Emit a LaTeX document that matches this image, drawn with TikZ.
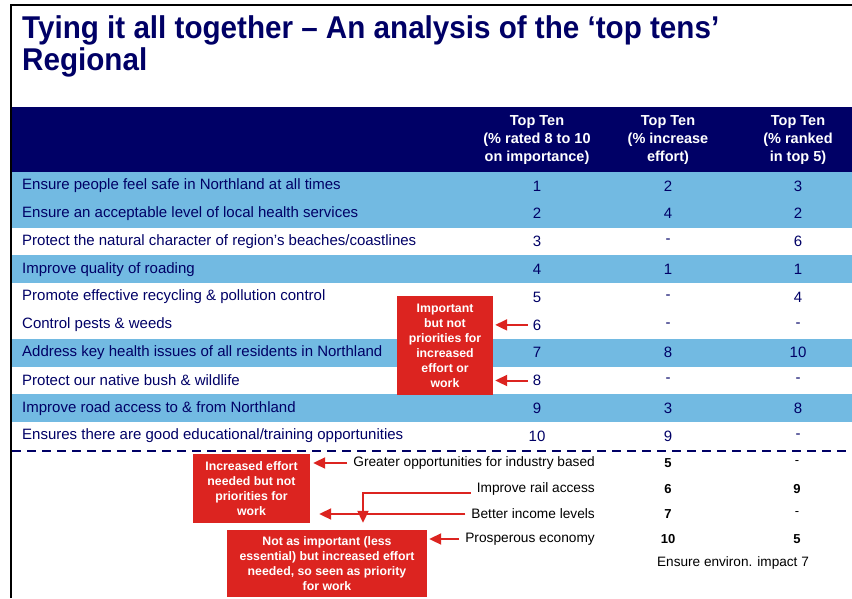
\documentclass[tikz,border=0pt]{standalone}
\usepackage{fontspec}
\setmainfont{Liberation Sans}
\newfontfamily\narrowfont[FakeStretch=0.94]{Liberation Sans}
\usetikzlibrary{arrows.meta}

\definecolor{navy}{HTML}{000066}
\definecolor{rowblue}{HTML}{72BAE2}
\definecolor{boxred}{HTML}{DC2420}

\tikzset{
	redbox/.style={fill=boxred,text=white,align=center,inner sep=2pt,
		font=\bfseries\fontsize{12.3}{15}\selectfont},
	redarrow/.style={boxred,line width=2pt,-{Triangle[length=12pt,width=11pt]}}
}

\begin{document}
\begin{tikzpicture}[x=1pt,y=-1pt]
		\useasboundingbox (0,0) rectangle (852,598);
		\fill[white] (0,0) rectangle (852,598);
		
		% frame, header band and shaded rows
		\draw[line width=2pt] (11,598) -- (11,5) -- (852,5);
		\fill[navy] (12,107) rectangle (852,172);
		\fill[rowblue] (12,172) rectangle (852,227.6);
		\fill[rowblue] (12,255.4) rectangle (852,283.2);
		\fill[rowblue] (12,338.8) rectangle (852,366.6);
		\fill[rowblue] (12,394.4) rectangle (852,422.2);
		\draw[navy,line width=2pt,dash pattern=on 9pt off 6pt] (12,451) -- (852,451);
		
		\begin{scope}[every node/.style={anchor=base west,text=navy,inner sep=0pt,
				font=\narrowfont\bfseries\fontsize{31.5}{34}\selectfont}]
			\node (T) at (22,38.5) {Tying it all together – An analysis of the ‘top tens’};
			\node (R) at (22,70.5) {Regional};
		\end{scope}
		
		\begin{scope}[every node/.style={text=white,align=center,
				font=\bfseries\fontsize{14.5}{18}\selectfont}]
			\node (H1) at (537,140) {Top Ten\\(\% rated 8 to 10\\on importance)};
			\node (H2) at (668,140) {Top Ten\\(\% increase\\effort)};
			\node (H3) at (798,140) {Top Ten\\(\% ranked\\in top 5)};
		\end{scope}
		
		\begin{scope}[every node/.style={anchor=west,text=navy,inner sep=0pt,
				font=\fontsize{15}{17}\selectfont}]
			\node (P1) at (22,185.9) {Ensure people feel safe in Northland at all times};
			\node (P2) at (22,213.7) {Ensure an acceptable level of local health services};
			\node (P3) at (22,241.5) {Protect the natural character of region’s beaches/coastlines};
			\node (P4) at (22,269.3) {Improve quality of roading};
			\node (P5) at (22,297.1) {Promote effective recycling \& pollution control};
			\node (P6) at (22,324.9) {Control pests \& weeds};
			\node (P7) at (22,352.7) {Address key health issues of all residents in Northland};
			\node (P8) at (22,380.5) {Protect our native bush \& wildlife};
			\node (P9) at (22,408.3) {Improve road access to \& from Northland};
			\node (P10) at (22,436.1) {Ensures there are good educational/training opportunities};
		\end{scope}
		
		\begin{scope}[every node/.style={text=navy,inner sep=1pt,
				font=\fontsize{15}{17}\selectfont}]
			\node (A1) at (537,185.9) {1};  \node (B1) at (668,185.9) {2}; \node (C1) at (798,185.9) {3};
			\node (A2) at (537,213.7) {2};  \node (B2) at (668,213.7) {4}; \node (C2) at (798,213.7) {2};
			\node (A3) at (537,241.5) {3};  \node (B3) at (668,241.5) {-}; \node (C3) at (798,241.5) {6};
			\node (A4) at (537,269.3) {4};  \node (B4) at (668,269.3) {1}; \node (C4) at (798,269.3) {1};
			\node (A5) at (537,297.1) {5};  \node (B5) at (668,297.1) {-}; \node (C5) at (798,297.1) {4};
			\node (A6) at (537,324.9) {6};  \node (B6) at (668,324.9) {-}; \node (C6) at (798,324.9) {-};
			\node (A7) at (537,352.7) {7};  \node (B7) at (668,352.7) {8}; \node (C7) at (798,352.7) {10};
			\node (A8) at (537,380.5) {8};  \node (B8) at (668,380.5) {-}; \node (C8) at (798,380.5) {-};
			\node (A9) at (537,408.3) {9};  \node (B9) at (668,408.3) {3}; \node (C9) at (798,408.3) {8};
			\node (A10) at (537,436.1) {10}; \node (B10) at (668,436.1) {9}; \node (C10) at (798,436.1) {-};
		\end{scope}
		
		\begin{scope}[every node/.style={anchor=east,inner sep=0pt,
				font=\fontsize{13.7}{16}\selectfont}]
			\node (G) at (595,463) {Greater opportunities for industry based};
			\node (L) at (595,489) {Improve rail access};
			\node (M) at (595,514) {Better income levels};
			\node (E) at (595,539) {Prosperous economy};
		\end{scope}
		
		\begin{scope}[every node/.style={inner sep=1pt,font=\bfseries\fontsize{13}{15}\selectfont}]
			\node (G1) at (668,463) {5};  \node (G2) at (797,463) {\mdseries -};
			\node (L1) at (668,489) {6};  \node (L2) at (797,489) {9};
			\node (M1) at (668,514) {7};  \node (M2) at (797,514) {\mdseries -};
			\node (E1) at (668,539) {10}; \node (E2) at (797,539) {5};
		\end{scope}
		\node[font=\fontsize{13.6}{16}\selectfont] (N) at (733,563) {Ensure environ. impact 7};
		
		\begin{scope}
			\node[redbox,minimum width=96pt,minimum height=99pt] (I) at (445,345.5)
				{Important\\but not\\priorities for\\increased\\effort or\\work};
			\node[redbox,minimum width=117pt,minimum height=69pt] (X) at (251.5,488.5)
				{Increased effort\\needed but not\\priorities for\\work};
			\node[redbox,minimum width=200pt,minimum height=67pt] (Y) at (327,563.5)
				{Not as important (less\\essential) but increased effort\\needed, so seen as priority\\for work};
		\end{scope}
		
		\begin{scope}
			\draw[redarrow,shorten >=2pt] ([xshift=-4pt]A6.west) -- (A6.west -| I.east);
			\draw[redarrow,shorten >=2pt] ([xshift=-4pt]A8.west) -- (A8.west -| I.east);
			\draw[redarrow,shorten >=3pt] ([xshift=-6pt]G.west) -- (G.west -| X.east);
			\draw[redarrow,shorten >=9pt] ([xshift=-6pt]M.west) -- (M.west -| X.east);
			\draw[redarrow,shorten >=7pt] ([xshift=-6pt,yshift=-4pt]L.west) -| ([xshift=36pt]Y.north);
			\draw[redarrow,shorten >=2pt] ([xshift=-6pt]E.west) -- (E.west -| Y.east);
		\end{scope}
	\end{tikzpicture}
\end{document}
